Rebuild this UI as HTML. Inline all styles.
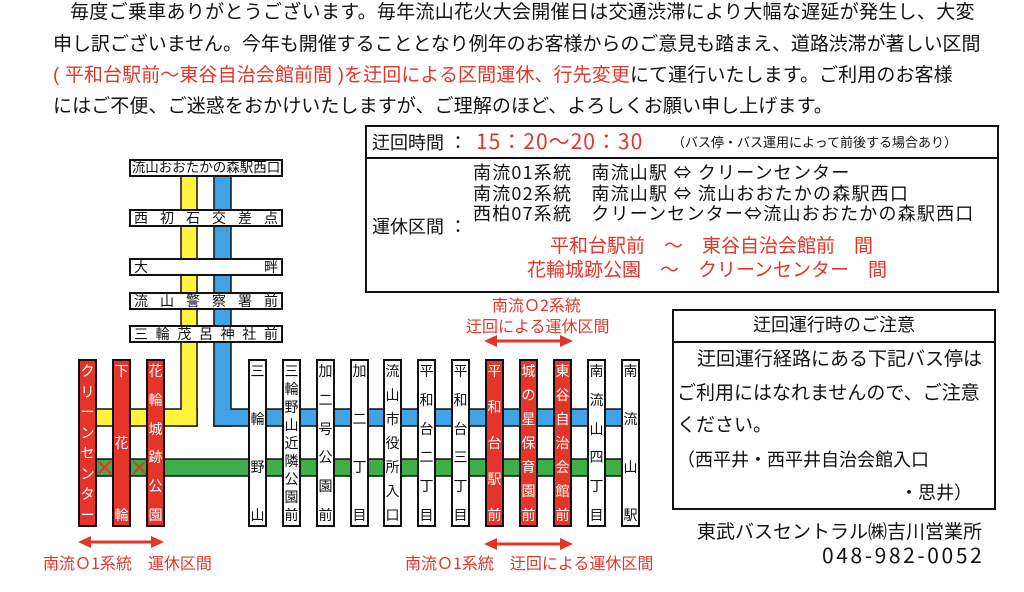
<!DOCTYPE html>
<html><head><meta charset="utf-8">
<style>
body{margin:0;width:1024px;height:592px;background:#fff;position:relative;overflow:hidden;font-family:"Liberation Sans","Noto Sans CJK JP",sans-serif;color:#111}
.a{position:absolute;white-space:nowrap;line-height:1}
.j{font-family:"Noto Sans CJK JP",sans-serif}
.hb{position:absolute;left:129px;width:154px;height:18px;border:2px solid #111;box-sizing:border-box;background:#fff;display:flex;justify-content:space-between;align-items:center;padding:0 3px;font-size:14px;line-height:1}
.vb{position:absolute;top:359px;width:19px;height:168px;border:2px solid #111;box-sizing:border-box;background:#fff;display:flex;flex-direction:column;justify-content:space-between;align-items:center;padding:3px 0;font-size:14px;line-height:1}
.r{background:#e5352a;color:#fff}
.red{color:#e5352a}
</style></head><body>
<div class="a" style="left:70px;top:3px;font-size:19px;letter-spacing:0.3px">毎度ご乗車ありがとうございます。毎年流山花火大会開催日は交通渋滞により大幅な遅延が発生し、大変</div>
<div class="a" style="left:53px;top:35px;font-size:19px;letter-spacing:-0.05px">申し訳ございません。今年も開催することとなり例年のお客様からのご意見も踏まえ、道路渋滞が著しい区間</div>
<div class="a" style="left:53px;top:66px;font-size:19px;letter-spacing:0.1px"><span class="red">( 平和台駅前～東谷自治会館前間 )を迂回による区間運休、行先変更</span>にて運行いたします。ご利用のお客様</div>
<div class="a" style="left:53px;top:97px;font-size:19px;letter-spacing:0.1px">にはご不便、ご迷惑をおかけいたしますが、ご理解のほど、よろしくお願い申し上げます。</div>

<svg style="position:absolute;left:0;top:0" width="1024" height="592">
<rect x="181" y="170" width="16" height="256" fill="#fff33b" stroke="#111" stroke-width="1.5"/>
<rect x="96" y="409" width="101" height="17" fill="#fff33b" stroke="#111" stroke-width="1.5"/>
<rect x="181.8" y="408" width="14.4" height="17" fill="#fff33b"/>
<rect x="214" y="170" width="17" height="256" fill="#3fa3e6" stroke="#111" stroke-width="1.5"/>
<rect x="214" y="409" width="424" height="17" fill="#3fa3e6" stroke="#111" stroke-width="1.5"/>
<rect x="214.8" y="408" width="15.4" height="17" fill="#3fa3e6"/>
<rect x="96" y="459" width="542" height="17" fill="#3eae4a" stroke="#111" stroke-width="1.5"/>
<g stroke="#e5352a" stroke-width="2">
<line x1="98" y1="461" x2="111" y2="474"/><line x1="111" y1="461" x2="98" y2="474"/>
<line x1="133" y1="461" x2="146" y2="474"/><line x1="146" y1="461" x2="133" y2="474"/>
</g>
<g fill="#e5352a" stroke="#e5352a" stroke-width="3">
<line x1="88" y1="542" x2="154" y2="542"/><polygon points="78,542 91,536 91,548" stroke-width="0"/><polygon points="164,542 151,536 151,548" stroke-width="0"/>
<line x1="494" y1="544" x2="563" y2="544"/><polygon points="484,544 497,538 497,550" stroke-width="0"/><polygon points="573,544 560,538 560,550" stroke-width="0"/>
<line x1="494" y1="341" x2="563" y2="341"/><polygon points="484,341 497,335 497,347" stroke-width="0"/><polygon points="573,341 560,335 560,347" stroke-width="0"/>
</g>
</svg>

<div class="hb" style="top:159px;font-size:13.5px;justify-content:center;padding:0">流山おおたかの森駅西口</div>
<div class="hb" style="top:209px"><span>西</span><span>初</span><span>石</span><span>交</span><span>差</span><span>点</span></div>
<div class="hb" style="top:258px"><span>大</span><span>畔</span></div>
<div class="hb" style="top:292px"><span>流</span><span>山</span><span>警</span><span>察</span><span>署</span><span>前</span></div>
<div class="hb" style="top:325px"><span>三</span><span>輪</span><span>茂</span><span>呂</span><span>神</span><span>社</span><span>前</span></div>

<div class="vb r" style="left:78px"><span>ク</span><span>リ</span><span>ー</span><span>ン</span><span>セ</span><span>ン</span><span>タ</span><span>ー</span></div>
<div class="vb r" style="left:112px"><span>下</span><span>花</span><span>輪</span></div>
<div class="vb r" style="left:146px"><span>花</span><span>輪</span><span>城</span><span>跡</span><span>公</span><span>園</span></div>
<div class="vb" style="left:248px"><span>三</span><span>輪</span><span>野</span><span>山</span></div>
<div class="vb" style="left:282px"><span>三</span><span>輪</span><span>野</span><span>山</span><span>近</span><span>隣</span><span>公</span><span>園</span><span>前</span></div>
<div class="vb" style="left:316px"><span>加</span><span>二</span><span>号</span><span>公</span><span>園</span><span>前</span></div>
<div class="vb" style="left:350px"><span>加</span><span>二</span><span>丁</span><span>目</span></div>
<div class="vb" style="left:383px"><span>流</span><span>山</span><span>市</span><span>役</span><span>所</span><span>入</span><span>口</span></div>
<div class="vb" style="left:417px"><span>平</span><span>和</span><span>台</span><span>二</span><span>丁</span><span>目</span></div>
<div class="vb" style="left:451px"><span>平</span><span>和</span><span>台</span><span>三</span><span>丁</span><span>目</span></div>
<div class="vb r" style="left:485px"><span>平</span><span>和</span><span>台</span><span>駅</span><span>前</span></div>
<div class="vb r" style="left:519px"><span>城</span><span>の</span><span>星</span><span>保</span><span>育</span><span>園</span><span>前</span></div>
<div class="vb r" style="left:553px"><span>東</span><span>谷</span><span>自</span><span>治</span><span>会</span><span>館</span><span>前</span></div>
<div class="vb" style="left:587px"><span>南</span><span>流</span><span>山</span><span>四</span><span>丁</span><span>目</span></div>
<div class="vb" style="left:621px"><span>南</span><span>流</span><span>山</span><span>駅</span></div>

<div class="a red j" style="left:43px;top:554px;font-size:16px">南流Ｏ1系統　運休区間</div>
<div class="a red j" style="left:405px;top:554px;font-size:16px">南流Ｏ1系統　迂回による運休区間</div>
<div class="a red j" style="left:492px;top:296px;font-size:16px">南流Ｏ2系統</div>
<div class="a red j" style="left:466px;top:317px;font-size:16px">迂回による運休区間</div>

<div style="position:absolute;left:365px;top:125px;width:634px;height:168px;border:2px solid #111;box-sizing:border-box"></div>
<div style="position:absolute;left:365px;top:157px;width:634px;height:2px;background:#111"></div>
<div class="a" style="left:372px;top:134px;font-size:18px">迂回時間 ：</div>
<div class="a red j" style="left:476px;top:131px;font-size:21px;letter-spacing:1px">15：20～20：30</div>
<div class="a" style="left:672px;top:136px;font-size:13px">（バス停・バス運用によって前後する場合あり）</div>
<div class="a j" style="left:473px;top:162px;font-size:18px;line-height:20.5px;letter-spacing:1.2px">南流01系統　南流山駅 ⇔ クリーンセンター<br>南流02系統　南流山駅 ⇔ 流山おおたかの森駅西口<br>西柏07系統　クリーンセンター⇔流山おおたかの森駅西口</div>
<div class="a" style="left:372px;top:218px;font-size:18px">運休区間 ：</div>
<div class="a red" style="left:550px;top:237px;font-size:19px">平和台駅前　～　東谷自治会館前　間</div>
<div class="a red" style="left:527px;top:261px;font-size:19px">花輪城跡公園　～　クリーンセンター　間</div>

<div style="position:absolute;left:672px;top:309px;width:324px;height:201px;border:2px solid #111;box-sizing:border-box"></div>
<div style="position:absolute;left:672px;top:341px;width:324px;height:2px;background:#111"></div>
<div class="a" style="left:672px;width:324px;text-align:center;top:316px;font-size:18px">迂回運行時のご注意</div>
<div class="a" style="left:697px;top:350px;font-size:19px">迂回運行経路にある下記バス停は</div>
<div class="a" style="left:677px;top:384px;font-size:19px">ご利用にはなれませんので、ご注意</div>
<div class="a" style="left:677px;top:416px;font-size:19px">ください。</div>
<div class="a" style="left:677px;top:451px;font-size:18px">（西平井・西平井自治会館入口</div>
<div class="a" style="left:900px;top:484px;font-size:18px">・思井）</div>
<div class="a" style="left:697px;top:523px;font-size:19px">東武バスセントラル㈱吉川営業所</div>
<div class="a j" style="left:822px;top:545px;font-size:21px;letter-spacing:2.6px">048-982-0052</div>
</body></html>
